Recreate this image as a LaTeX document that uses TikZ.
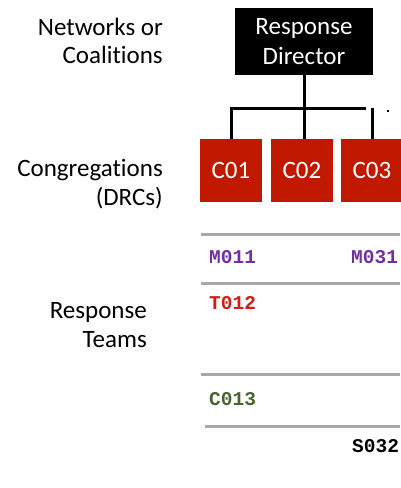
\documentclass[tikz,border=0pt]{standalone}
\usepackage{fontspec}
\setmainfont{Carlito}[Ligatures=NoCommon]
\newfontfamily\codefont{Liberation Mono}
\definecolor{boxred}{RGB}{192,25,0}
\definecolor{rulegray}{RGB}{168,168,168}
\definecolor{codepurple}{RGB}{112,48,160}
\definecolor{codered}{RGB}{204,30,20}
\definecolor{codegreen}{RGB}{70,100,45}
\tikzset{
  lvl/.style={align=right, anchor=east, inner sep=0pt,
    font=\fontsize{25}{28.5}\selectfont},
  dirbox/.style={fill=black, text=white, align=center, inner sep=0pt,
    minimum width=138pt, minimum height=67pt,
    font=\fontsize{25}{30}\selectfont},
  cong/.style={fill=boxred, text=white, inner sep=0pt,
    minimum width=62pt, minimum height=63pt,
    font=\fontsize{25}{28}\selectfont},
  conn/.style={line width=3pt},
  sep/.style={line width=3pt, rulegray},
  team/.style={anchor=base west, inner sep=0pt,
    font=\codefont\bfseries\fontsize{19.5}{22}\selectfont},
}
\begin{document}
\begin{tikzpicture}[x=1pt, y=-1pt]
\useasboundingbox (0,0) rectangle (400,488);

% level labels
\node[lvl] (netlab) at (163,41) {Networks or\\Coalitions};
\node[lvl] (conglab) at (163,184) {Congregations\\(DRCs)};
\node[lvl] (teamlab) at (147,325) {Response\\Teams};

% director and congregations
\node[dirbox] (dir) at (304,41.5) {Response\\Director};
\node[cong] (c01) at (231,170.5) {C01};
\node[cong] (c02) at (302,170.5) {C02};
\node[cong] (c03) at (372,170.5) {C03};

% connectors
\coordinate (barend) at (366,108);
\draw[conn] (dir.south) -- (dir.south |- c02.north);
\draw[conn] (c01.north) |- (barend);
\draw[conn] (c03.north) -- (c03.north |- barend);
\fill (387,110) rectangle (389,112);

% team separators
\coordinate (s1a) at (201,234); \coordinate (s1b) at (400,234);
\coordinate (s2a) at (201,283); \coordinate (s2b) at (400,283);
\coordinate (s3a) at (201,374); \coordinate (s3b) at (400,374);
\coordinate (s4a) at (205,426); \coordinate (s4b) at (400,426);
\draw[sep] (s1a) -- (s1b);
\draw[sep] (s2a) -- (s2b);
\draw[sep] (s3a) -- (s3b);
\draw[sep] (s4a) -- (s4b);

% team codes
\node[team, text=codepurple] (m011) at (209,263.5) {M011};
\node[team, text=codepurple] (m031) at (351,263.5) {M031};
\node[team, text=codered] (t012) at (209,309.5) {T012};
\node[team, text=codegreen] (c013) at (209,405.5) {C013};
\node[team, text=black] (s032) at (352,452.5) {S032};
\end{tikzpicture}
\end{document}
